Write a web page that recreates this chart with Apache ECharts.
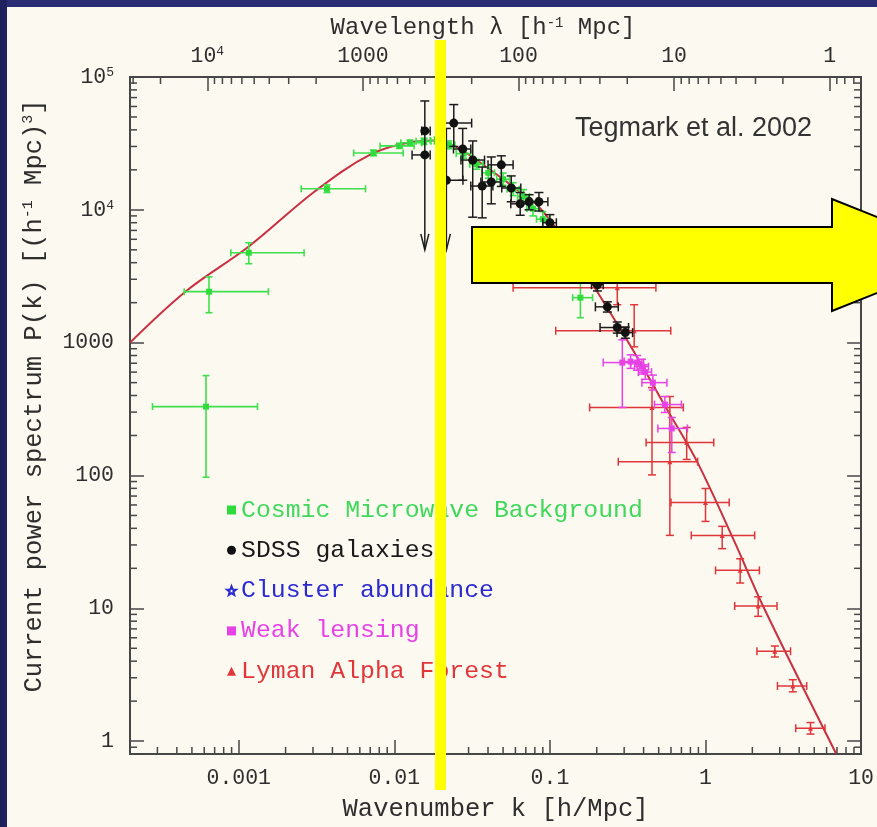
<!DOCTYPE html>
<html>
<head>
<meta charset="utf-8">
<script src="https://cdn.jsdelivr.net/npm/echarts@6/dist/echarts.min.js"></script>
<style>
  html, body { margin: 0; padding: 0; background: #fcf9f1; }
  #c { width: 877px; height: 827px; }
</style>
</head>
<body>
<div id="c"></div>
<script>
// ---------------- data ----------------
// axis ranges
const kMin = 2e-4, kMax = 10;          // wavenumber k [h/Mpc]
const pMin = 0.8, pMax = 1e5;          // P(k)
const lamMin = 2 * Math.PI / kMax, lamMax = 2 * Math.PI / kMin; // wavelength

// tick labels
const kTicks = [0.001, 0.01, 0.1, 1, 10];
const kTickLabels = ['0.001', '0.01', '0.1', '1', '10'];
const lamTicks = [1, 10, 100, 1000, 10000];
const lamTickLabels = ['1', '10', '100', '1000', '10{sup|4}'];
const pTicks = [1, 10, 100, 1000, 10000, 100000];
const pTickLabels = ['1', '10', '100', '1000', '10{sup|4}', '10{sup|5}'];

// theory curve (k, P)
const curveK = [2e-4, 4.6e-4, 1.16e-3, 3.09e-3, 7.0e-3, 0.0134, 0.019, 0.026, 0.039, 0.06, 0.085, 0.12, 0.2, 0.338, 0.565, 0.889, 1.53, 2.38, 6.93];
const curveP = [1000, 2450, 5300, 13800, 26000, 32500, 33200, 29000, 21000, 14500, 10500, 6200, 2450, 900, 315, 125, 32, 10, 0.8];

// rows: [k, P, kLo, kHi, PLo, PHi]
const cmbPoints = [
  [6.16e-4, 330, 2.79e-4, 1.32e-3, 97, 565],
  [6.44e-4, 2420, 4.46e-4, 1.55e-3, 1680, 3130],
  [1.16e-3, 4750, 8.89e-4, 2.63e-3, 3930, 5650],
  [3.69e-3, 14400, 2.52e-3, 6.53e-3, 13500, 15400],
  [7.35e-3, 26800, 5.48e-3, 0.0114, 25500, 28200],
  [0.0108, 30300, 0.0081, 0.0134, 29000, 31700],
  [0.0126, 32000, 0.0110, 0.0150, 30500, 33500],
  [0.0155, 32800, 0.0138, 0.0172, 31000, 34600],
  [0.0188, 33300, 0.0170, 0.0207, 31400, 35300],
  [0.0224, 30800, 0.0205, 0.0245, 28800, 33000],
  [0.0279, 26500, 0.0250, 0.0310, 24500, 28700],
  [0.0337, 22000, 0.0305, 0.0372, 20200, 24000],
  [0.0402, 19000, 0.0365, 0.0440, 17300, 20900],
  [0.0500, 17000, 0.0455, 0.0550, 15300, 18900],
  [0.0580, 14300, 0.0530, 0.0635, 12800, 16000],
  [0.0677, 12600, 0.0620, 0.0740, 11200, 14200],
  [0.0778, 10200, 0.0710, 0.0850, 9000, 11600],
  [0.0900, 8500, 0.0820, 0.0990, 7400, 9700],
  [0.157, 2180, 0.140, 0.188, 1540, 2830]
];
// rows: [k, P, kLo, kHi, PLo, PHi, downArrow]
const sdssPoints = [
  [0.0157, 39300, 0.0150, 0.0170, 5000, 66000, 1],
  [0.0157, 25900, 0.0130, 0.0170, 25900, 25900, 0],
  [0.0216, 16700, 0.0216, 0.0276, 5000, 41000, 1],
  [0.0241, 45000, 0.0193, 0.0314, 30000, 62000, 0],
  [0.0275, 28700, 0.0240, 0.0310, 16700, 41000, 0],
  [0.0319, 23700, 0.0268, 0.0380, 8800, 33000, 0],
  [0.0367, 15100, 0.0310, 0.0430, 8700, 21000, 0],
  [0.0420, 16200, 0.0360, 0.0480, 11100, 25000, 0],
  [0.0487, 21800, 0.0400, 0.0580, 15000, 25500, 0],
  [0.0564, 14600, 0.0490, 0.0650, 11500, 18000, 0],
  [0.0644, 11100, 0.0560, 0.0730, 9100, 13500, 0],
  [0.0735, 11500, 0.0650, 0.0830, 10000, 13000, 0],
  [0.0850, 11500, 0.0750, 0.0970, 9800, 13500, 0],
  [0.100, 8000, 0.090, 0.110, 7000, 9200, 0],
  [0.120, 6000, 0.108, 0.133, 5200, 6900, 0],
  [0.150, 4300, 0.135, 0.166, 3700, 5000, 0],
  [0.180, 3300, 0.163, 0.198, 2800, 3800, 0],
  [0.202, 2730, 0.185, 0.220, 2450, 3050, 0],
  [0.234, 1860, 0.196, 0.275, 1700, 2030, 0],
  [0.271, 1300, 0.210, 0.320, 1180, 1430, 0],
  [0.305, 1190, 0.270, 0.340, 1080, 1310, 0]
];
const clusterPoints = [
  [0.100, 3200, 0.100, 0.100, 3200, 3200]
];
const lensingPoints = [
  [0.292, 708, 0.22, 0.33, 325, 1050],
  [0.33, 720, 0.30, 0.37, 640, 810],
  [0.364, 708, 0.33, 0.40, 620, 800],
  [0.39, 660, 0.35, 0.43, 580, 750],
  [0.41, 600, 0.37, 0.45, 530, 680],
  [0.459, 500, 0.39, 0.565, 440, 570],
  [0.548, 342, 0.47, 0.70, 298, 393],
  [0.607, 226, 0.494, 0.765, 149, 273]
];
const lymanPoints = [
  [0.271, 2590, 0.058, 0.48, 1930, 3475],
  [0.348, 1230, 0.109, 0.598, 930, 1930],
  [0.453, 325, 0.18, 0.72, 101, 459],
  [0.757, 177, 0.415, 1.13, 132, 230],
  [0.59, 127, 0.275, 0.89, 35.4, 393],
  [1.0, 62.7, 0.6, 1.42, 45.1, 79.8],
  [1.28, 35.4, 0.81, 2.07, 28.1, 41.4],
  [1.67, 19.3, 1.16, 2.22, 15.5, 23.6],
  [2.18, 10.4, 1.54, 2.88, 8.7, 12.2],
  [2.79, 4.75, 2.14, 3.52, 4.3, 5.2],
  [3.64, 2.6, 2.9, 4.47, 2.35, 2.9],
  [4.73, 1.25, 3.8, 5.86, 1.13, 1.38]
];

const seriesNames = ['Cosmic Microwave Background', 'SDSS galaxies', 'Cluster abundance', 'Weak lensing', 'Lyman Alpha Forest'];

// ---------------- style ----------------
const FONT = "'Liberation Mono', 'DejaVu Sans Mono', monospace";
const AX = '#474747';
const TXT = '#2e2e2e';
const C_CMB = '#2fdc3c', C_CMB_TXT = '#3fd85a';
const C_SDSS = '#111111';
const C_CL = '#2a2ad0';
const C_WL = '#e642e6';
const C_LY = '#e0363a';
const C_CURVE = '#c8303f';
const MAJOR = 14, MINOR = 7;

function fmt(ticks, labels) {
  return function (v) {
    for (let i = 0; i < ticks.length; i++) {
      if (Math.abs(Math.log10(v / ticks[i])) < 1e-6) return labels[i];
    }
    return '';
  };
}
function minorTicks(lo, hi) {
  const out = [];
  for (let e = Math.floor(Math.log10(lo)); e <= Math.ceil(Math.log10(hi)); e++) {
    for (let m = 2; m <= 9; m++) {
      const v = m * Math.pow(10, e);
      if (v > lo * 1.0001 && v < hi * 0.9999) out.push(v);
    }
  }
  return out;
}
const kMinor = minorTicks(kMin, kMax);
const pMinor = minorTicks(pMin, pMax);
const lamMinor = minorTicks(lamMin, lamMax);

const supLabel = { sup: { fontFamily: FONT, fontSize: 13, color: TXT, verticalAlign: 'top', lineHeight: 13 } };
const supName = { sup: { fontFamily: FONT, fontSize: 14, color: TXT, verticalAlign: 'top', lineHeight: 14 } };

function ln(x1, y1, x2, y2, st) {
  return { type: 'line', shape: { x1: x1, y1: y1, x2: x2, y2: y2 }, style: st };
}
function starPoints(cx, cy, R, r) {
  const pts = [];
  for (let i = 0; i < 10; i++) {
    const a = -Math.PI / 2 + i * Math.PI / 5;
    const rr = i % 2 === 0 ? R : r;
    pts.push([cx + rr * Math.cos(a), cy + rr * Math.sin(a)]);
  }
  return pts;
}

function errSeries(name, rows, o) {
  return {
    type: 'custom', name: name, xAxisIndex: 0, yAxisIndex: 0, z: o.z,
    itemStyle: { color: o.color },
    data: rows,
    encode: { x: 0, y: 1 },
    renderItem: function (params, api) {
      const k = api.value(0), P = api.value(1);
      const kLo = api.value(2), kHi = api.value(3), PLo = api.value(4), PHi = api.value(5);
      const arrow = o.arrows ? api.value(6) : 0;
      const c = api.coord([k, P]);
      const st = { stroke: o.bar, lineWidth: o.lw, opacity: o.opacity || 1 };
      const cap = o.cap;
      const ch = [];
      if (kHi > kLo) {
        const l = api.coord([kLo, P])[0], r = api.coord([kHi, P])[0];
        ch.push(ln(l, c[1], r, c[1], st));
        ch.push(ln(l, c[1] - cap, l, c[1] + cap, st));
        ch.push(ln(r, c[1] - cap, r, c[1] + cap, st));
      }
      if (PHi > PLo) {
        const t = api.coord([k, PHi])[1], b = api.coord([k, PLo])[1];
        ch.push(ln(c[0], t, c[0], b, st));
        ch.push(ln(c[0] - cap, t, c[0] + cap, t, st));
        if (arrow) {
          ch.push({ type: 'polyline', shape: { points: [[c[0] - 4, b - 16], [c[0], b], [c[0] + 4, b - 16]] }, style: { stroke: o.bar, lineWidth: o.lw, fill: null } });
        } else {
          ch.push(ln(c[0] - cap, b, c[0] + cap, b, st));
        }
      }
      const s = o.size;
      if (o.marker === 'square') {
        ch.push({ type: 'rect', shape: { x: c[0] - s / 2, y: c[1] - s / 2, width: s, height: s }, style: { fill: o.color } });
      } else if (o.marker === 'circle') {
        ch.push({ type: 'circle', shape: { cx: c[0], cy: c[1], r: s / 2 }, style: { fill: o.color } });
      } else if (o.marker === 'triangle') {
        ch.push({ type: 'polygon', shape: { points: [[c[0], c[1] - s / 2], [c[0] + s / 2, c[1] + s / 2], [c[0] - s / 2, c[1] + s / 2]] }, style: { fill: o.color } });
      } else if (o.marker === 'star') {
        ch.push({ type: 'polygon', shape: { points: starPoints(c[0], c[1], s / 2, s / 4.5) }, style: { fill: 'none', stroke: o.color, lineWidth: 1.8 } });
      }
      return { type: 'group', children: ch };
    }
  };
}

const tickStyle = { stroke: AX, lineWidth: 1.5 };

const option = {
  backgroundColor: '#fcf9f1',
  animation: false,
  grid: { left: 130, right: 10, top: 77, bottom: 70, containLabel: false },
  xAxis: [
    {
      type: 'log', logBase: 10, min: kMin, max: kMax, position: 'bottom',
      axisLine: { show: true, onZero: false, lineStyle: { color: AX, width: 2 } },
      axisTick: { show: true, inside: true, length: MAJOR, lineStyle: { color: AX, width: 1.5 } },
      minorTick: { show: false }, splitLine: { show: false },
      axisLabel: { show: true, margin: 13, formatter: fmt(kTicks, kTickLabels), color: TXT, fontFamily: FONT, fontSize: 21.5, hideOverlap: false, showMinLabel: true, showMaxLabel: true },
      name: 'Wavenumber k [h/Mpc]', nameLocation: 'middle', nameGap: 42,
      nameTextStyle: { fontFamily: FONT, fontSize: 25.5, color: TXT }
    },
    {
      type: 'log', logBase: 10, min: lamMin, max: lamMax, inverse: true, position: 'top',
      axisLine: { show: true, onZero: false, lineStyle: { color: AX, width: 2 } },
      axisTick: { show: true, inside: true, length: MAJOR, lineStyle: { color: AX, width: 1.5 } },
      minorTick: { show: false }, splitLine: { show: false },
      axisLabel: { show: true, margin: 10, formatter: fmt(lamTicks, lamTickLabels), color: TXT, fontFamily: FONT, fontSize: 21.5, rich: supLabel, hideOverlap: false, showMinLabel: true, showMaxLabel: true },
      name: 'Wavelength λ [h{sup|-1} Mpc]', nameLocation: 'middle', nameGap: 35,
      nameTextStyle: { fontFamily: FONT, fontSize: 24, color: TXT, rich: supName, padding: [0, 25, 0, 0] }
    }
  ],
  yAxis: [
    {
      type: 'log', logBase: 10, min: pMin, max: pMax, position: 'left',
      axisLine: { show: true, onZero: false, lineStyle: { color: AX, width: 2 } },
      axisTick: { show: true, inside: true, length: MAJOR, lineStyle: { color: AX, width: 1.5 } },
      minorTick: { show: false }, splitLine: { show: false },
      axisLabel: { show: true, margin: 16, formatter: fmt(pTicks, pTickLabels), color: TXT, fontFamily: FONT, fontSize: 21.5, rich: supLabel, hideOverlap: false, showMinLabel: true, showMaxLabel: true }
    },
    {
      type: 'log', logBase: 10, min: pMin, max: pMax, position: 'right',
      axisLine: { show: true, onZero: false, lineStyle: { color: AX, width: 2 } },
      axisTick: { show: true, inside: true, length: MAJOR, lineStyle: { color: AX, width: 1.5 } },
      minorTick: { show: false }, splitLine: { show: false },
      axisLabel: { show: false }
    }
  ],
  legend: {
    orient: 'vertical', left: 221, top: 490, itemGap: 10.3, itemWidth: 9, itemHeight: 9,
    selectedMode: false,
    textStyle: { fontFamily: FONT, fontSize: 24.8, lineHeight: 30 },
    data: [
      { name: seriesNames[0], icon: 'rect', textStyle: { color: C_CMB_TXT } },
      { name: seriesNames[1], icon: 'circle', textStyle: { color: '#1a1a1a' } },
      { name: seriesNames[2], icon: 'path://M12,1 L14.9,8.6 L23,9 L16.7,14.1 L18.8,22 L12,17.6 L5.2,22 L7.3,14.1 L1,9 L9.1,8.6 Z', itemStyle: { color: 'rgba(0,0,0,0)', borderColor: C_CL, borderWidth: 2 }, textStyle: { color: C_CL } },
      { name: seriesNames[3], icon: 'rect', textStyle: { color: C_WL } },
      { name: seriesNames[4], icon: 'triangle', textStyle: { color: C_LY } }
    ]
  },
  series: [
    {
      type: 'line', name: 'theory', xAxisIndex: 0, yAxisIndex: 0, z: 2,
      data: curveK.map((k, i) => [k, curveP[i]]),
      smooth: 0.35, showSymbol: false, symbol: 'none',
      lineStyle: { color: C_CURVE, width: 2 }, itemStyle: { color: C_CURVE }
    },
    errSeries(seriesNames[0], cmbPoints, { color: C_CMB, bar: '#3ee04c', lw: 1.6, cap: 3.5, marker: 'square', size: 6, z: 3 }),
    errSeries(seriesNames[4], lymanPoints, { color: C_LY, bar: C_LY, lw: 1.5, cap: 4, marker: 'triangle', size: 5, z: 4 }),
    errSeries(seriesNames[3], lensingPoints, { color: C_WL, bar: C_WL, lw: 1.5, cap: 4, marker: 'square', size: 6, z: 5 }),
    errSeries(seriesNames[2], clusterPoints, { color: C_CL, bar: C_CL, lw: 1.5, cap: 4, marker: 'star', size: 11, z: 6 }),
    errSeries(seriesNames[1], sdssPoints, { color: C_SDSS, bar: '#1c1c1c', lw: 1.5, cap: 4.5, marker: 'circle', size: 9, z: 7, arrows: true }),
    {
      type: 'custom', name: '_ticksK', xAxisIndex: 0, yAxisIndex: 0, silent: true, z: 10,
      data: [[kMin, pMin]],
      renderItem: function (params, api) {
        const cs = params.coordSys;
        const ch = [];
        const bottom = cs.y + cs.height, left = cs.x, right = cs.x + cs.width;
        kMinor.forEach(function (v) {
          const x = api.coord([v, pMin])[0];
          ch.push(ln(x, bottom, x, bottom - MINOR, tickStyle));
        });
        pMinor.forEach(function (v) {
          const y = api.coord([kMin, v])[1];
          ch.push(ln(left, y, left + MINOR, y, tickStyle));
          ch.push(ln(right, y, right - MINOR, y, tickStyle));
        });
        return { type: 'group', children: ch };
      }
    },
    {
      type: 'custom', name: '_ticksLam', xAxisIndex: 1, yAxisIndex: 0, silent: true, z: 10,
      data: [[lamMin, pMin]],
      renderItem: function (params, api) {
        const cs = params.coordSys;
        const ch = [];
        const top = cs.y;
        lamMinor.forEach(function (v) {
          const x = api.coord([v, pMin])[0];
          ch.push(ln(x, top, x, top + MINOR, tickStyle));
        });
        return { type: 'group', children: ch };
      }
    }
  ],
  graphic: [
    { type: 'rect', z: 100, shape: { x: 0, y: 0, width: 877, height: 7 }, style: { fill: '#2a2c74' } },
    { type: 'rect', z: 100, shape: { x: 0, y: 0, width: 7, height: 827 }, style: { fill: '#1f215f' } },
    {
      type: 'text', z: 50, x: 34, y: 396, rotation: Math.PI / 2,
      style: {
        text: 'Current power spectrum P(k) [(h{sup|-1} Mpc){sup|3}]',
        fontFamily: FONT, fontSize: 25.5, fill: TXT, align: 'center', verticalAlign: 'middle',
        rich: { sup: { fontFamily: FONT, fontSize: 15, fill: TXT, verticalAlign: 'top', lineHeight: 15 } }
      }
    },
    {
      type: 'text', z: 50, x: 575, y: 129,
      style: { text: 'Tegmark et al. 2002', fontFamily: "'Liberation Sans', Arial, sans-serif", fontSize: 27, fill: '#333333', align: 'left', verticalAlign: 'middle' }
    },
    { type: 'rect', z: 100, shape: { x: 435, y: 40, width: 11, height: 750 }, style: { fill: '#ffff00' } },
    {
      type: 'polygon', z: 100,
      shape: { points: [[472, 227], [832, 227], [832, 199], [972, 255], [832, 311], [832, 283], [472, 283]] },
      style: { fill: '#ffff00', stroke: '#000000', lineWidth: 2 }
    }
  ]
};

const chart = echarts.init(document.getElementById('c'), null, { renderer: 'canvas', width: 877, height: 827 });
chart.setOption(option);
</script>
</body>
</html>
